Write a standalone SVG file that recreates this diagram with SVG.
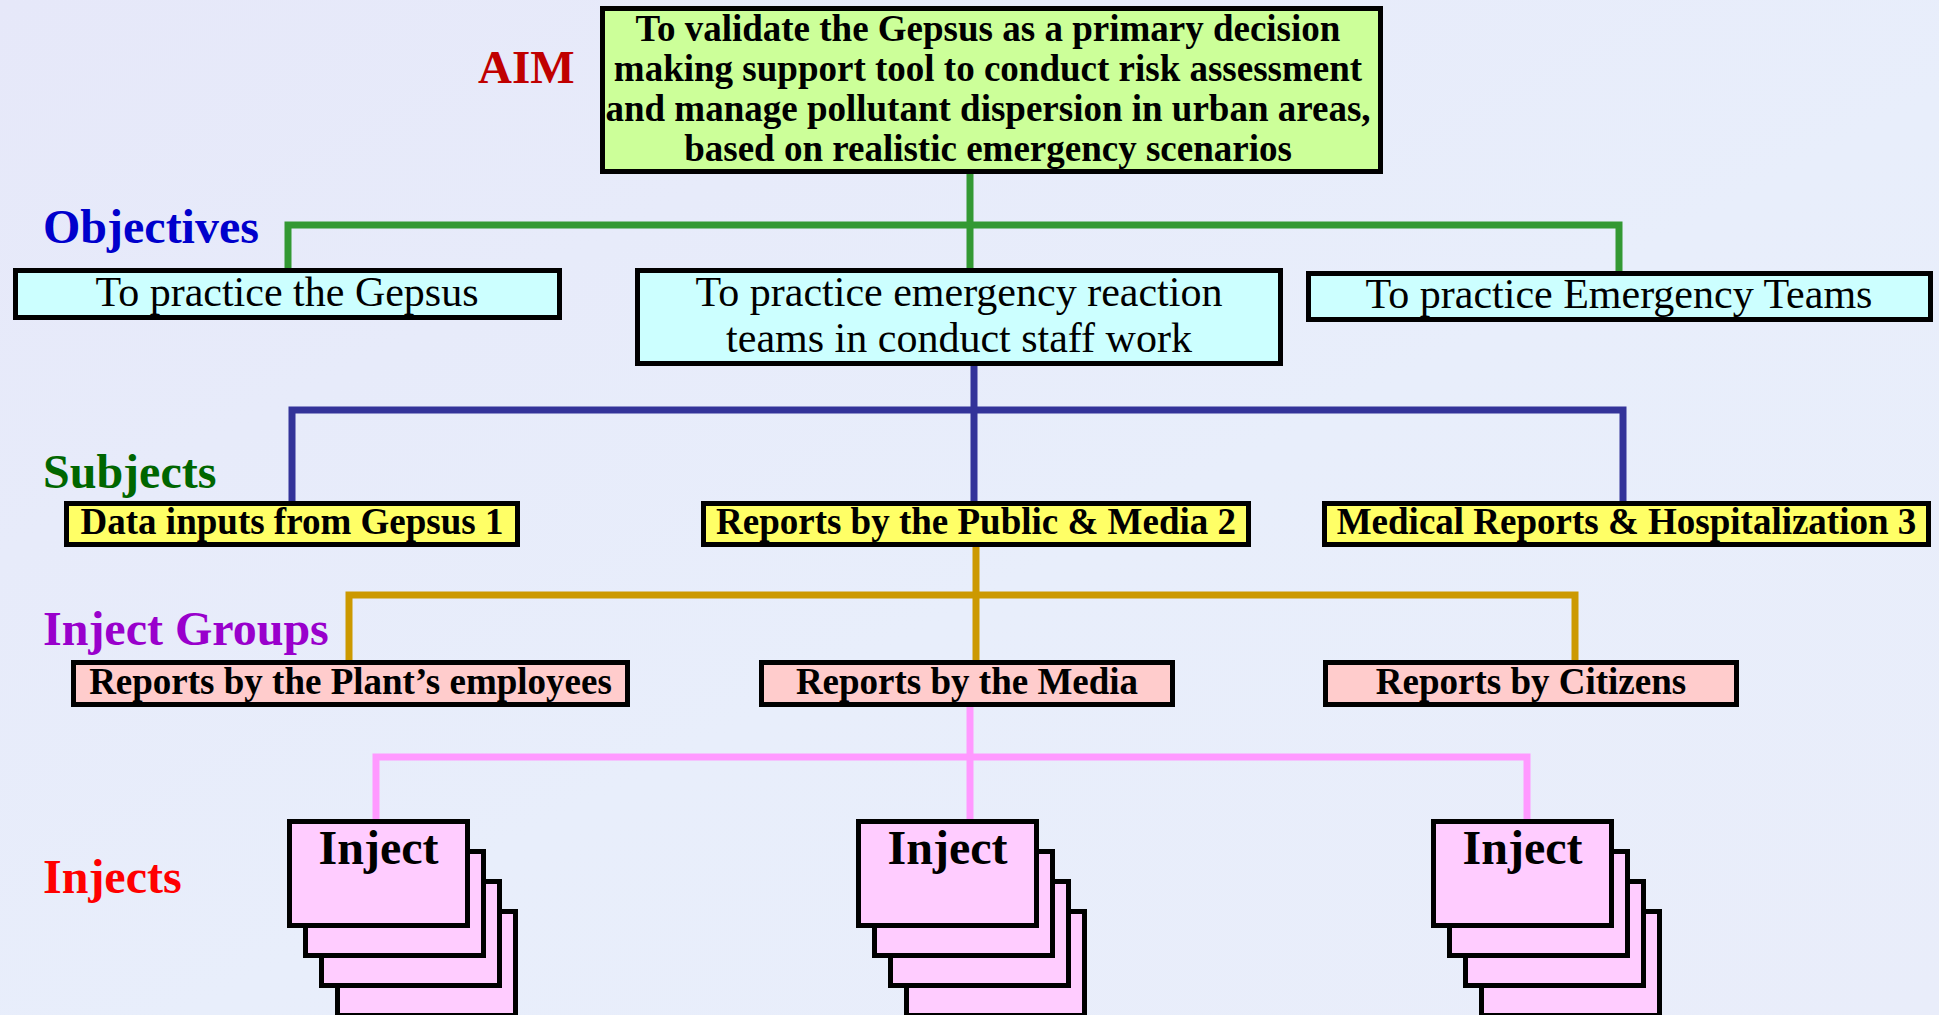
<svg xmlns="http://www.w3.org/2000/svg" width="1939" height="1015" viewBox="0 0 1939 1015">
<defs>
<linearGradient id="bg" x1="0" y1="0" x2="1" y2="1">
<stop offset="0" stop-color="#E6E8F9"/>
<stop offset="0.55" stop-color="#E8EEFB"/>
<stop offset="1" stop-color="#E9EDFA"/>
</linearGradient>
<style>
.box{stroke:#000;stroke-width:5}
.aim{fill:#CCFF99}
.obj{fill:#CCFFFF}
.sub{fill:#FFFF66}
.grp{fill:#FFCCCC}
.card{fill:#FFCCFF;stroke:#000;stroke-width:5}
.t{font-family:"Liberation Serif","Times New Roman",serif;text-anchor:middle;fill:#000}
.b{font-weight:bold}
.lbl{font-family:"Liberation Serif","Times New Roman",serif;font-weight:bold;font-size:48px}
.c{fill:none;stroke-width:7}
</style>
</defs>
<rect x="0" y="0" width="1939" height="1015" fill="url(#bg)"/>

<g id="labels">
<text class="lbl" x="478" y="83" font-size="47" fill="#C00000" style="font-size:47px">AIM</text>
<text class="lbl" x="43" y="243" fill="#0000CC">Objectives</text>
<text class="lbl" x="43" y="488" fill="#006600">Subjects</text>
<text class="lbl" x="43" y="645" fill="#9900CC">Inject Groups</text>
<text class="lbl" x="43" y="893" fill="#FF0000">Injects</text>
</g>

<g id="connectors">
<path class="c" stroke="#339933" d="M970,174 V270 M288,270 V225 H1619 V272"/>
<path class="c" stroke="#333399" d="M974,366 V503 M292,503 V410 H1623 V503"/>
<path class="c" stroke="#CC9900" d="M976,547 V662 M349,662 V595 H1575 V662"/>
<path class="c" stroke="#FF99FF" d="M970,707 V821 M376,821 V757 H1527 V821"/>
</g>

<g id="aim">
<rect class="box aim" x="602.5" y="8.5" width="778" height="163"/>
<text class="t b" font-size="37" x="988" y="41">To validate the Gepsus as a primary decision</text>
<text class="t b" font-size="37" x="988" y="81">making support tool to conduct risk assessment</text>
<text class="t b" font-size="37" x="988" y="121">and manage pollutant dispersion in urban areas,</text>
<text class="t b" font-size="37" x="988" y="161">based on realistic emergency scenarios</text>
</g>

<g id="obj1">
<rect class="box obj" x="15.5" y="270.5" width="544" height="47"/>
<text class="t" font-size="42" x="287" y="306">To practice the Gepsus</text>
</g>
<g id="obj2">
<rect class="box obj" x="637.5" y="270.5" width="643" height="93"/>
<text class="t" font-size="42" x="959" y="306">To practice emergency reaction</text>
<text class="t" font-size="42" x="959" y="352">teams in conduct staff work</text>
</g>
<g id="obj3">
<rect class="box obj" x="1308.5" y="273.5" width="622" height="46"/>
<text class="t" font-size="42" x="1619" y="308">To practice Emergency Teams</text>
</g>

<g id="sub1">
<rect class="box sub" x="66.5" y="503.5" width="451" height="41"/>
<text class="t b" font-size="37" x="292" y="534">Data inputs from Gepsus 1</text>
</g>
<g id="sub2">
<rect class="box sub" x="703.5" y="503.5" width="545" height="41"/>
<text class="t b" font-size="37" x="976" y="534">Reports by the Public &amp; Media 2</text>
</g>
<g id="sub3">
<rect class="box sub" x="1324.5" y="503.5" width="604" height="41"/>
<text class="t b" font-size="37" x="1626.5" y="534">Medical Reports &amp; Hospitalization 3</text>
</g>

<g id="grp1">
<rect class="box grp" x="73.5" y="662.5" width="554" height="42"/>
<text class="t b" font-size="37" x="350.5" y="694">Reports by the Plant’s employees</text>
</g>
<g id="grp2">
<rect class="box grp" x="761.5" y="662.5" width="411" height="42"/>
<text class="t b" font-size="37" x="967" y="694">Reports by the Media</text>
</g>
<g id="grp3">
<rect class="box grp" x="1325.5" y="662.5" width="411" height="42"/>
<text class="t b" font-size="37" x="1531" y="694">Reports by Citizens</text>
</g>

<g id="inject1">
<rect class="card" x="337.5" y="911.5" width="178" height="104"/>
<rect class="card" x="321.5" y="881.5" width="178" height="104"/>
<rect class="card" x="305.5" y="851.5" width="178" height="104"/>
<rect class="card" x="289.5" y="821.5" width="178" height="104"/>
<text class="t b" font-size="48" x="378.5" y="864">Inject</text>
</g>
<g id="inject2">
<rect class="card" x="906.5" y="911.5" width="178" height="104"/>
<rect class="card" x="890.5" y="881.5" width="178" height="104"/>
<rect class="card" x="874.5" y="851.5" width="178" height="104"/>
<rect class="card" x="858.5" y="821.5" width="178" height="104"/>
<text class="t b" font-size="48" x="947.5" y="864">Inject</text>
</g>
<g id="inject3">
<rect class="card" x="1481.5" y="911.5" width="178" height="104"/>
<rect class="card" x="1465.5" y="881.5" width="178" height="104"/>
<rect class="card" x="1449.5" y="851.5" width="178" height="104"/>
<rect class="card" x="1433.5" y="821.5" width="178" height="104"/>
<text class="t b" font-size="48" x="1522.5" y="864">Inject</text>
</g>
</svg>
